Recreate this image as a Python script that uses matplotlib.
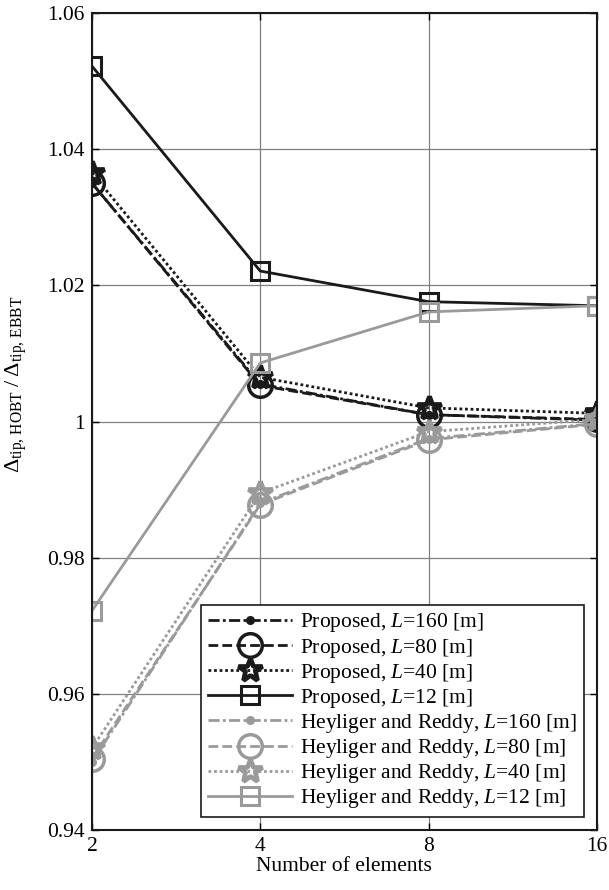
import matplotlib
matplotlib.use("Agg")
import matplotlib.pyplot as plt
import numpy as np

plt.rcParams['font.family'] = ['Liberation Serif', 'DejaVu Serif']
plt.rcParams['mathtext.fontset'] = 'custom'
plt.rcParams['mathtext.rm'] = 'Liberation Serif'
plt.rcParams['mathtext.it'] = 'Liberation Serif:italic'

elements = [2, 4, 8, 16]
lengths = [160, 80, 40, 12]

proposed = {
    160: [1.0350, 1.0055, 1.0010, 1.0002],
    80:  [1.0350, 1.0053, 1.0010, 1.0003],
    40:  [1.0365, 1.0065, 1.0020, 1.0012],
    12:  [1.0522, 1.0221, 1.0176, 1.0170],
}
heyliger = {
    160: [0.9500, 0.9880, 0.9975, 0.9997],
    80:  [0.9505, 0.9878, 0.9973, 0.9996],
    40:  [0.9520, 0.9895, 0.9985, 1.0003],
    12:  [0.9722, 1.0086, 1.0161, 1.0170],
}
yticks = [0.94, 0.96, 0.98, 1.0, 1.02, 1.04, 1.06]
yticklabels = ['0.94', '0.96', '0.98', '1', '1.02', '1.04', '1.06']

styles = {
    160: dict(ls=(0, (4, 1.2, 1, 1.2)), marker='o', ms=5, mfc='C', mew=1.5),
    80:  dict(ls=(0, (3.5, 1.5)), marker='o', ms=17, mfc='none', mew=2.5),
    40:  dict(ls=(0, (1, 1)), marker='*', ms=18, mfc='none', mew=3.4),
    12:  dict(ls='-', marker='s', ms=13, mfc='none', mew=2.2),
}

black = '#1a1a1a'
gray = '#9a9a9a'
fs = 15.5

fig = plt.figure(figsize=(6.09, 8.90), dpi=100)
ax = fig.add_axes([0.151, 0.0674, 0.829, 0.918])

def draw(data, color, name):
    for L in lengths:
        s = dict(styles[L])
        mfc = color if s.pop('mfc') == 'C' else 'none'
        ax.plot(elements, data[L], color=color, lw=2.0, mfc=mfc, mec=color,
                label=f'{name}, $\\mathit{{L}}$=' + f'{L} [m]', **s)

draw(proposed, black, 'Proposed')
draw(heyliger, gray, 'Heyliger and Reddy')

ax.set_xscale('log', base=2)
ax.set_xlim(2, 16)
ax.set_xticks(elements)
ax.set_xticklabels([str(e) for e in elements])
ax.minorticks_off()
ax.set_ylim(0.94, 1.06)
ax.set_yticks(yticks)
ax.set_yticklabels(yticklabels)
ax.grid(True, color='#808080', lw=0.9)
ax.tick_params(direction='in', length=5, width=1, labelsize=fs, top=True, right=True, pad=5)
for sp in ax.spines.values():
    sp.set_linewidth(1.5)
    sp.set_color(black)
ax.set_xlabel('Number of elements', fontsize=fs, labelpad=1)
ax.set_ylabel(r'$\Delta_{\mathrm{tip,\,HOBT}}\;/\;\Delta_{\mathrm{tip,\,EBBT}}$', fontsize=16)
ax.yaxis.set_label_coords(-0.125, 0.545)

leg = ax.legend(loc='lower right', bbox_to_anchor=(0.974, 0.016), fontsize=fs,
                handlelength=3.9, labelspacing=0.1, handletextpad=0.4,
                borderpad=0.3, fancybox=False, framealpha=1, edgecolor=black,
                borderaxespad=0)
leg.get_frame().set_linewidth(1.2)

fig.savefig('out.png', dpi=100)
